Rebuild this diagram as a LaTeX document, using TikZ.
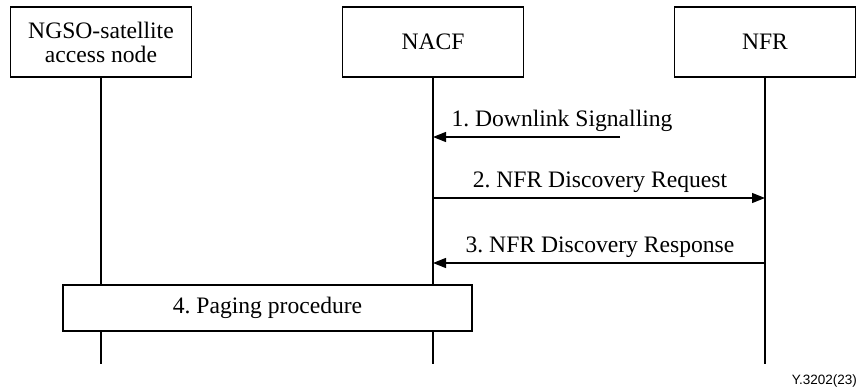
\documentclass[tikz,border=0pt]{standalone}
\usepackage{fontspec}
\setmainfont{Liberation Serif}
\newfontfamily\serfont{Liberation Serif}
\newfontfamily\capfont{Liberation Sans}
\usetikzlibrary{arrows.meta}
\frenchspacing
\begin{document}
\begin{tikzpicture}[x=1pt,y=-1pt,
  entity/.style={draw, line width=1.3pt, minimum width=181pt, minimum height=70pt,
    align=center, font=\serfont\fontsize{23.6}{26}\selectfont, inner sep=0pt},
  life/.style={line width=1.3pt},
  msg/.style={line width=1.3pt, -{Triangle[length=13pt,width=10pt]}},
  lbl/.style={font=\serfont\fontsize{23.6}{26}\selectfont, inner sep=0pt},
  procbox/.style={draw, fill=white, line width=1.3pt, minimum width=409pt, minimum height=46pt,
    font=\serfont\fontsize{23.6}{26}\selectfont, inner sep=0pt}]
\useasboundingbox (0,0) rectangle (859,389);
% entities
\node[entity] (ngso) at (101,42) {NGSO-satellite\\[-2pt]access node};
\node[entity] (nacf) at (433,42) {NACF};
\node[entity] (nfr) at (765,42) {NFR};
% lifeline ends
\coordinate (ngsoEnd) at (101,364);
\coordinate (nacfEnd) at (433,364);
\coordinate (nfrEnd) at (765,364);
\draw[life] (ngso.south) -- (ngsoEnd);
\draw[life] (nacf.south) -- (nacfEnd);
\draw[life] (nfr.south) -- (nfrEnd);
% message points
\coordinate (m1s) at (620,137);
\coordinate (m1e) at (433,137);
\coordinate (m2s) at (433,198);
\coordinate (m2e) at (765,198);
\coordinate (m3s) at (765,263);
\coordinate (m3e) at (433,263);
\draw[msg] (m1s) -- (m1e);
\draw[msg] (m2s) -- (m2e);
\draw[msg] (m3s) -- (m3e);
\node[lbl] (l1) at (562,121) {1. Downlink Signalling};
\node[lbl] (l2) at (600,182) {2. NFR Discovery Request};
\node[lbl] (l3) at (600,247) {3. NFR Discovery Response};
% paging
\node[procbox] (paging) at (267.5,308) {4. Paging procedure};
% caption
\node[anchor=east, inner sep=0pt, font=\capfont\fontsize{13.5}{15}\selectfont] (cap) at (857,381) {Y.3202(23)};
\end{tikzpicture}
\end{document}
